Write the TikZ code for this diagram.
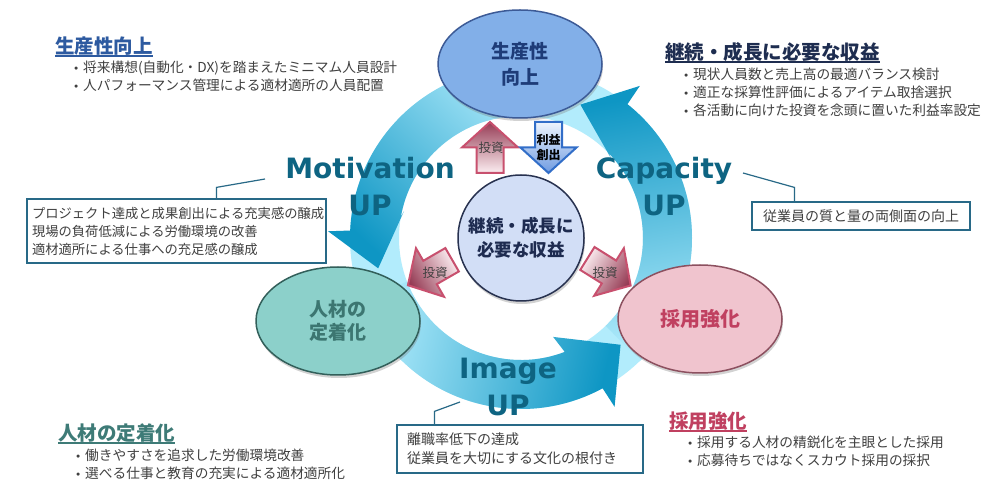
\documentclass[tikz,border=0pt]{standalone}
\usepackage{fontspec}
\setmainfont{Noto Sans CJK JP}
\newfontfamily\vfont{DejaVu Sans}
\usetikzlibrary{shapes.geometric,shadows}

\definecolor{ringlight}{RGB}{178,236,252}
\definecolor{ringdark}{RGB}{14,150,196}
\definecolor{upcol}{RGB}{14,100,130}
\definecolor{prodfill}{RGB}{130,175,232}
\definecolor{proddraw}{RGB}{60,90,150}
\definecolor{prodtext}{RGB}{30,60,120}
\definecolor{retfill}{RGB}{140,208,202}
\definecolor{retdraw}{RGB}{50,95,90}
\definecolor{rettext}{RGB}{60,118,113}
\definecolor{recfill}{RGB}{240,196,206}
\definecolor{recdraw}{RGB}{140,80,95}
\definecolor{rectext}{RGB}{192,64,96}
\definecolor{corefill}{RGB}{210,222,246}
\definecolor{coredraw}{RGB}{40,50,80}
\definecolor{coretext}{RGB}{30,43,80}
\definecolor{invdraw}{RGB}{200,80,110}
\definecolor{invdark}{RGB}{150,60,85}
\definecolor{invlight}{RGB}{252,238,241}
\definecolor{prfdraw}{RGB}{50,110,200}
\definecolor{prfdark}{RGB}{110,155,225}
\definecolor{prflight}{RGB}{238,244,253}
\definecolor{boxdraw}{RGB}{40,105,135}
\definecolor{textgray}{RGB}{64,64,64}
\definecolor{headblue}{RGB}{45,90,160}
\definecolor{headnavy}{RGB}{30,45,80}
\definecolor{headteal}{RGB}{62,123,119}

\newcommand{\bul}{\makebox[10pt][l]{\vfont\fontsize{10.5}{10}\selectfont •}}
% fat arrow: position, direction, shading angle, style
\newcommand{\fatarrow}[4]{%
  \begin{scope}[shift={(#1)},rotate=#2]
    \path[#4,shading angle=#3] (-25.5,-13.5) -- (0,-13.5) -- (0,-28) -- (25.5,0)
      -- (0,28) -- (0,13.5) -- (-25.5,13.5) -- cycle;
  \end{scope}}

\begin{document}
\begin{tikzpicture}[x=1pt,y=1pt,
  ringarrow/.style={top color=ringdark,bottom color=ringlight},
  uplabel/.style={font=\vfont\bfseries\fontsize{28}{37}\selectfont,text=upcol,align=center,inner sep=0pt},
  oval/.style={ellipse,minimum width=164pt,minimum height=108pt,inner sep=0pt,line width=1.5pt,
    align=center,drop shadow={opacity=.35,shadow xshift=1pt,shadow yshift=-3pt}},
  invarrow/.style={draw=invdraw,line width=2pt,top color=invdark,bottom color=invlight},
  prfarrow/.style={draw=prfdraw,line width=2pt,top color=prfdark,bottom color=prflight},
  invtext/.style={inner sep=0pt,text=textgray,font=\fontsize{12.5}{15}\selectfont},
  infobox/.style={draw=boxdraw,line width=1.2pt,fill=white,align=left,inner xsep=5pt,inner ysep=0pt,
    text=textgray},
  callout/.style={draw=boxdraw,line width=1.2pt},
  title/.style={anchor=west,inner sep=0pt,font=\bfseries\fontsize{19.5}{24}\selectfont},
  bullets/.style={anchor=west,inner sep=0pt,align=left,text=textgray,font=\fontsize{13.7}{18}\selectfont}]
\useasboundingbox (0,0) rectangle (1008,503);
\fill[white] (0,0) rectangle (1008,503);

% ring and the three circular arrows
\begin{scope}[shift={(521,265)}]
  \fill[ringlight,even odd rule] (0,0) circle (171) (0,0) circle (122);
  \foreach \tp/\ib/\sa in {192/120/136,313/104/257,66/120/10}{
    \path[ringarrow,shading angle=\sa] (\tp-112:171) arc[start angle=\tp-112,end angle=\tp-14.5,radius=171]
      -- (\tp-14:193) -- (\tp:146) -- (\tp-25:\ib) -- (\tp-22:122)
      arc[start angle=\tp-22,end angle=\tp-112,radius=122] -- cycle;
  }
\end{scope}

\node[uplabel] (motup) at (370,316.5) {Motivation\\UP};
\node[uplabel] (capup) at (664,316.5) {Capacity\\UP};
\node[uplabel] (imgup) at (508,116.5) {Image\\UP};

% the three fields and the core
\node[oval,fill=prodfill,draw=proddraw,text=prodtext,font=\bfseries\fontsize{19}{26}\selectfont]
  (prod) at (520,439) {生産性\\向上};
\node[oval,fill=retfill,draw=retdraw,text=rettext,font=\bfseries\fontsize{19}{23}\selectfont]
  (ret) at (338,182) {人材の\\定着化};
\node[oval,fill=recfill,draw=recdraw,text=rectext,font=\bfseries\fontsize{20}{24}\selectfont]
  (rec) at (700,184) {採用強化};
\node[circle,minimum size=126pt,inner sep=0pt,fill=corefill,draw=coredraw,line width=1.5pt,
  text=coretext,align=center,font=\bfseries\fontsize{17.5}{24}\selectfont,
  drop shadow={opacity=.35,shadow xshift=1pt,shadow yshift=-3pt}]
  (core) at (521,265) {継続・成長に\\必要な収益};

% investment and profit arrows
\fatarrow{490,355.5}{90}{0}{invarrow}
\fatarrow{548.5,355.5}{270}{180}{prfarrow}
\fatarrow{430,230.5}{210}{120}{invarrow}
\fatarrow{609,231}{328}{238}{invarrow}
\node[invtext] (inv1) at (491,355) {投資};
\node[inner sep=0pt,align=center,font=\bfseries\fontsize{12}{15}\selectfont] (prf) at (548.5,355.5) {利益\\創出};
\node[invtext] (inv2) at (435,230) {投資};
\node[invtext] (inv3) at (605,230) {投資};

% notes with callouts
\node[infobox,minimum width=299pt,minimum height=64pt,text width=289pt,font=\fontsize{13.3}{18}\selectfont]
  (lbox) at (176.5,272) {プロジェクト達成と成果創出による充実感の醸成\\現場の負荷低減による労働環境の改善\\適材適所による仕事への充足感の醸成};
\node[infobox,minimum width=218pt,minimum height=28pt,align=center,font=\fontsize{14}{18}\selectfont]
  (rbox) at (861,287) {従業員の質と量の両側面の向上};
\node[infobox,minimum width=246pt,minimum height=48pt,inner xsep=10pt,text width=226pt,font=\fontsize{14}{19}\selectfont]
  (bbox) at (520,54) {離職率低下の達成\\従業員を大切にする文化の根付き};
\coordinate (motend) at (265,324);
\coordinate (capend) at (743,330);
\coordinate (imgend) at (460,101);
\draw[callout] ([xshift=190pt]lbox.north west) -- ++(0,11) -- (motend);
\draw[callout] ([xshift=43pt]rbox.north west) -- ++(0,14) -- (capend);
\draw[callout] ([xshift=38pt]bbox.north west) -- ++(0,13) -- (imgend);

% headings and bullet lists
\node[title,text=headblue] (prodhead) at (55,457) {生産性向上};
\node[title,text=headnavy] (conthead) at (665,451) {継続・成長に必要な収益};
\node[title,text=rectext] (rechead) at (669,82) {採用強化};
\node[title,text=headteal] (rethead) at (58,70) {人材の定着化};
\foreach \h/\c in {prodhead/headblue,conthead/headnavy,rechead/rectext,rethead/headteal}
  \draw[line width=1.3pt,\c] ([yshift=-2.5pt]\h.base west) -- ([yshift=-2.5pt]\h.base east);

\node[bullets,font=\fontsize{13.7}{17.5}\selectfont] (prodlist) at (73,426.5)
  {\bul 将来構想(自動化・DX)を踏まえたミニマム人員設計\\\bul 人パフォーマンス管理による適材適所の人員配置};
\node[bullets] (contlist) at (683,410.7)
  {\bul 現状人員数と売上高の最適バランス検討\\\bul 適正な採算性評価によるアイテム取捨選択\\\bul 各活動に向けた投資を念頭に置いた利益率設定};
\node[bullets] (reclist) at (687,52)
  {\bul 採用する人材の精鋭化を主眼とした採用\\\bul 応募待ちではなくスカウト採用の採択};
\node[bullets] (retlist) at (75,39)
  {\bul 働きやすさを追求した労働環境改善\\\bul 選べる仕事と教育の充実による適材適所化};
\end{tikzpicture}
\end{document}
